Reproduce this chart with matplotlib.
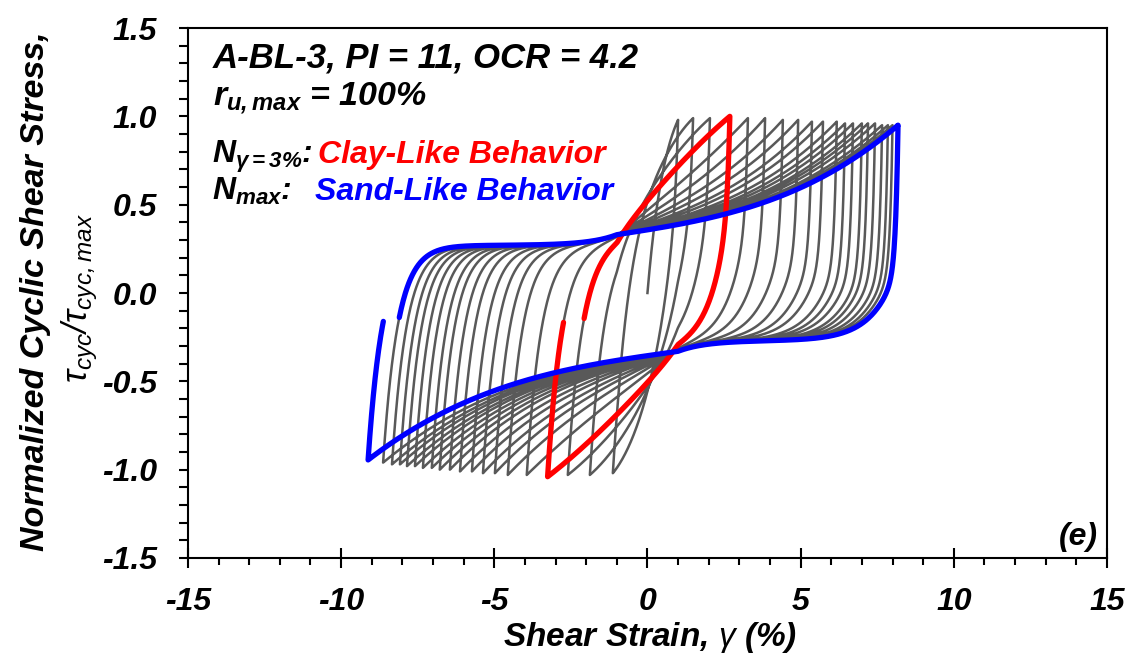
import numpy as np
import matplotlib
matplotlib.use('Agg')
import matplotlib.pyplot as plt
from matplotlib.ticker import MultipleLocator, FormatStrFormatter

# peaks of each cycle (strain in %, normalized stress)
pos_peak_strain = [1.00, 1.49, 2.04, 2.69, 3.28, 3.84, 4.42, 4.92, 5.37, 5.73,
                   6.18, 6.45, 6.71, 7.00, 7.20, 7.43, 7.66, 7.85, 8.00, 8.18]
pos_peak_stress = [0.98, 0.99, 0.99, 1.00, 0.99, 0.99, 0.98, 0.98, 0.97, 0.97,
                   0.97, 0.96, 0.96, 0.96, 0.96, 0.96, 0.95, 0.95, 0.95, 0.95]
neg_peak_strain = [-1.13, -1.88, -2.60, -3.26, -3.94, -4.56, -4.98, -5.37, -5.73, -6.12,
                   -6.45, -6.78, -7.04, -7.33, -7.59, -7.85, -8.08, -8.34, -8.63, -9.12]
neg_peak_stress = [-1.02, -1.03, -1.03, -1.04, -1.03, -1.03, -1.02, -1.02, -1.01, -1.01,
                   -1.00, -1.00, -0.99, -0.99, -0.98, -0.98, -0.97, -0.97, -0.96, -0.945]

# loop shape per cycle: curvature of the dilative branch and the unloading stiffness
branch_curv = [-0.25, -0.2, -0.15, -0.1, 0.1, 0.22, 0.3, 0.36, 0.42, 0.46,
               0.5, 0.52, 0.54, 0.56, 0.57, 0.58, 0.59, 0.6, 0.6, 0.6]
unload_fast = [0.25, 0.28, 0.32, 0.35, 0.42, 0.48, 0.52, 0.55, 0.58, 0.6,
               0.62, 0.63, 0.64, 0.65, 0.65, 0.65, 0.65, 0.65, 0.65, 0.65]
unload_len = [0.6, 0.58, 0.56, 0.55, 0.6, 0.65, 0.7, 0.72, 0.75, 0.77,
              0.78, 0.79, 0.8, 0.8, 0.8, 0.8, 0.8, 0.8, 0.8, 0.8]

clay_cycle = 3    # N at gamma = 3 %
sand_cycle = 19   # N max

# points where the branches of all cycles meet
X0, Y0 = -1.0, 0.33
PLATEAU = 0.27
D_UP = 0.48


def fan(u, s):
    return (1 - s) * u + s * u ** 3


def up_branch(a, ya, b, yb, s, n=600):
    t = np.linspace(0, 1, n)
    x = a + (b - a) * (1 - np.cos(np.pi * t)) / 2

    def target(xx):
        xx = np.atleast_1d(xx)
        u = np.clip((xx - X0) / (b - X0), 0, 1)
        return np.where(xx <= X0, PLATEAU + (Y0 - PLATEAU) * np.exp((xx - X0) / 0.9),
                        Y0 + (yb - Y0) * fan(u, s))

    e = np.exp(-(x - a) / D_UP)
    eb = np.exp(-(b - a) / D_UP)
    y = target(x) + (ya - target(a)[0]) * (e - eb) / (1 - eb)
    return x, y


def down_branch(b, yb, a, ya, s, w, l2, n=600):
    t = np.linspace(0, 1, n)
    x = b - (b - a) * (1 - np.cos(np.pi * t)) / 2
    x1 = -X0

    def target(xx):
        xx = np.atleast_1d(xx)
        u = np.clip((x1 - xx) / (x1 - a), 0, 1)
        return np.where(xx >= x1, -PLATEAU - (Y0 - PLATEAU) * np.exp((x1 - xx) / 0.9),
                        -Y0 + (ya + Y0) * fan(u, s))

    def f(dx):
        return w * np.exp(-dx / 0.08) + (1 - w) * np.exp(-dx / l2)

    fl = f(b - a)
    y = target(x) + (yb - target(b)[0]) * (f(b - x) - fl) / (1 - fl)
    return x, y


n_cyc = len(pos_peak_strain)
ups, downs = [], []
prev = (0.0, 0.0)
for k in range(n_cyc):
    ups.append(up_branch(prev[0], prev[1], pos_peak_strain[k], pos_peak_stress[k], branch_curv[k]))
    downs.append(down_branch(pos_peak_strain[k], pos_peak_stress[k],
                             neg_peak_strain[k], neg_peak_stress[k],
                             branch_curv[k], unload_fast[k], unload_len[k]))
    prev = (neg_peak_strain[k], neg_peak_stress[k])
last_up = up_branch(prev[0], prev[1], pos_peak_strain[-1], pos_peak_stress[-1], branch_curv[-1])
ux, uy = last_up
stop = np.argmax(uy >= -0.17)
last_up = (ux[:stop + 1], uy[:stop + 1])

gx = np.concatenate([np.concatenate([ups[k][0], downs[k][0]]) for k in range(n_cyc)] + [last_up[0]])
gy = np.concatenate([np.concatenate([ups[k][1], downs[k][1]]) for k in range(n_cyc)] + [last_up[1]])


def one_cycle(k):
    x1, y1 = ups[k]
    i = np.argmax(y1 >= -0.15)
    x1, y1 = x1[i:], y1[i:]
    x2, y2 = downs[k]
    x3, y3 = ups[k + 1] if k + 1 < n_cyc else last_up
    j = np.argmax(y3 >= -0.17)
    x3, y3 = x3[:j + 1], y3[:j + 1]
    return np.concatenate([x1, x2, x3]), np.concatenate([y1, y2, y3])


plt.rcParams['font.family'] = ['Liberation Sans', 'DejaVu Sans']
plt.rcParams['font.weight'] = 'bold'
plt.rcParams['font.style'] = 'italic'
plt.rcParams['axes.unicode_minus'] = False
plt.rcParams['mathtext.fontset'] = 'custom'
plt.rcParams['mathtext.rm'] = 'Liberation Sans:bold:italic'
plt.rcParams['mathtext.it'] = 'Liberation Sans:bold:italic'
plt.rcParams['mathtext.bf'] = 'Liberation Sans:bold:italic'
plt.rcParams['mathtext.sf'] = 'Liberation Sans:italic:normal'

fig = plt.figure(figsize=(11.33, 6.56), dpi=100)
ax = fig.add_axes([0.1659, 0.1494, 0.8111, 0.8079])

ax.plot(gx, gy, color='#595959', lw=1.8, solid_joinstyle='round')
cx, cy = one_cycle(clay_cycle)
ax.plot(cx, cy, color='#ff0000', lw=3.8, solid_capstyle='round')
sx, sy = one_cycle(sand_cycle)
ax.plot(sx, sy, color='#0000ff', lw=3.8, solid_capstyle='round')

ax.set_xlim(-15, 15)
ax.set_ylim(-1.5, 1.5)
ax.xaxis.set_major_locator(MultipleLocator(5))
ax.xaxis.set_minor_locator(MultipleLocator(1))
ax.yaxis.set_major_locator(MultipleLocator(0.5))
ax.yaxis.set_minor_locator(MultipleLocator(0.1))
ax.yaxis.set_major_formatter(FormatStrFormatter('%.1f'))
ax.tick_params(axis='x', which='major', direction='inout', length=14, width=1.5,
               pad=14, labelsize=23)
ax.tick_params(axis='x', which='minor', direction='out', length=5, width=1.5)
ax.tick_params(axis='y', which='both', direction='out', length=6.5, width=1.5,
               pad=16, labelsize=23)
for sp in ax.spines.values():
    sp.set_linewidth(1.5)

ax.text(-14.19, 1.279, 'A-BL-3, PI = 11, OCR = 4.2', fontsize=25, va='baseline')
ax.text(-14.19, 1.064, r'$r_{u,max}$ = 100%', fontsize=24.5, va='baseline')
ax.text(-14.22, 0.736, r'$N_{γ=3\%}$:', fontsize=23, va='baseline')
ax.text(-10.76, 0.736, 'Clay-Like Behavior', fontsize=23, va='baseline', color='#ff0000')
ax.text(-14.22, 0.526, r'$N_{max}$:', fontsize=23, va='baseline')
ax.text(-10.86, 0.526, 'Sand-Like Behavior', fontsize=23, va='baseline', color='#0000ff')
ax.text(14.7, -1.425, '(e)', fontsize=23, ha='right', va='baseline')

fig.text(0.031, 0.556, 'Normalized Cyclic Shear Stress,', rotation=90,
         fontsize=24.5, ha='center', va='center')
fig.text(0.070, 0.545, r'$\mathsf{τ_{cyc}/τ_{cyc,max}}$', rotation=90,
         fontsize=25, ha='center', va='center')
fig.text(0.574, 0.016, r'Shear Strain, $\mathsf{γ}$ (%)', fontsize=24,
         ha='center', va='baseline')

fig.savefig('out.png', dpi=100)
